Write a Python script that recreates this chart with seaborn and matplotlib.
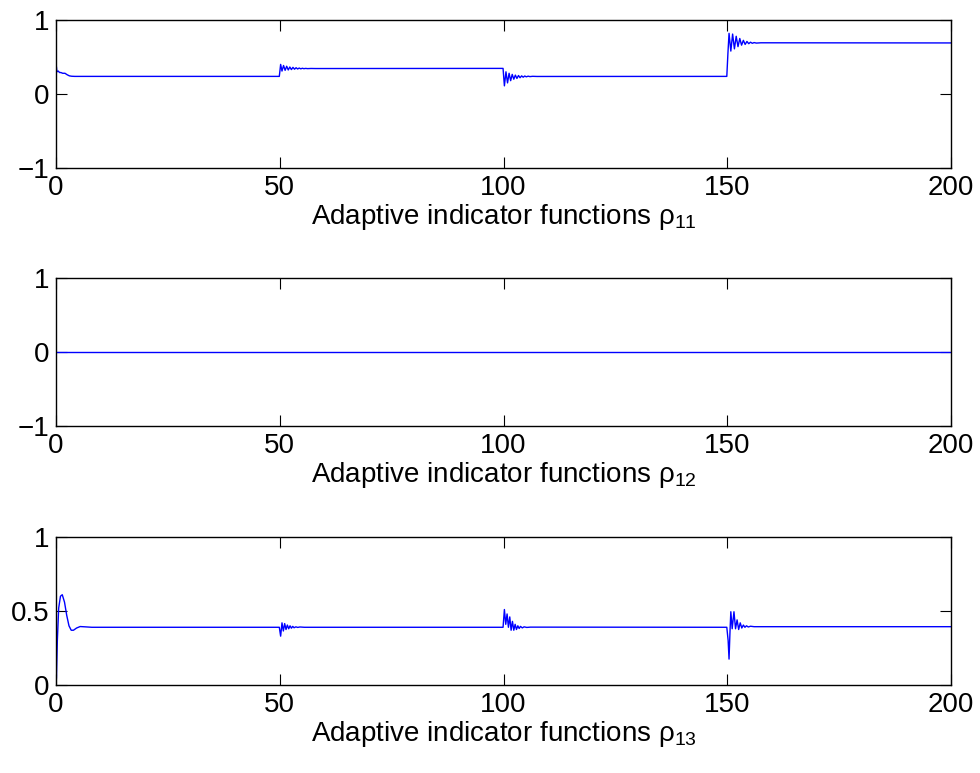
import matplotlib
matplotlib.use("Agg")
import matplotlib.pyplot as plt
import seaborn as sns
import pandas as pd

# ---------------- data ----------------
rho11_t = [0.0, 0.08, 0.2, 0.5, 0.8, 1.1, 1.5, 2.0, 2.5, 3.0, 3.5, 4.2, 5.0, 6.0,
           49.9, 50.2, 50.5, 50.85, 51.2, 51.55, 51.9, 52.25, 52.6, 52.95, 53.3,
           53.65, 54.0, 54.35, 54.7, 55.05, 55.4, 55.8, 56.2, 57.0, 58.0,
           99.9, 100.2, 100.55, 100.9, 101.25, 101.6, 101.95, 102.3, 102.65, 103.0,
           103.35, 103.7, 104.05, 104.4, 104.75, 105.1, 105.5, 105.9, 106.5, 107.5,
           149.9, 150.15, 150.4, 150.8, 151.2, 151.6, 152.0, 152.4, 152.8, 153.2,
           153.6, 154.0, 154.4, 154.8, 155.2, 155.6, 156.0, 156.5, 157.5, 200.0]
rho11_v = [-0.08, 0.37, 0.30, 0.31, 0.29, 0.29, 0.28, 0.28, 0.26, 0.245, 0.24, 0.238, 0.238, 0.238,
           0.238, 0.40, 0.31, 0.385, 0.32, 0.375, 0.325, 0.365, 0.33, 0.36, 0.335,
           0.355, 0.338, 0.351, 0.34, 0.348, 0.342, 0.346, 0.343, 0.345, 0.344,
           0.346, 0.11, 0.30, 0.15, 0.28, 0.18, 0.265, 0.20, 0.255, 0.21,
           0.25, 0.22, 0.245, 0.227, 0.243, 0.232, 0.241, 0.235, 0.239, 0.237,
           0.238, 0.55, 0.82, 0.58, 0.81, 0.61, 0.78, 0.64, 0.75, 0.66,
           0.725, 0.67, 0.71, 0.68, 0.70, 0.685, 0.695, 0.688, 0.692, 0.69]

rho12_t = [0.0, 200.0]
rho12_v = [0.0, 0.0]

rho13_t = [0.0, 0.1, 0.3, 0.6, 1.0, 1.4, 1.9, 2.4, 2.9, 3.4, 3.9, 4.6, 5.4, 6.5, 8.0,
           49.9, 50.2, 50.5, 50.8, 51.1, 51.4, 51.7, 52.0, 52.3, 52.6, 52.9, 53.2,
           53.6, 54.0, 54.5, 55.5,
           99.9, 100.2, 100.5, 100.8, 101.1, 101.4, 101.7, 102.0, 102.3, 102.6,
           102.9, 103.2, 103.5, 103.8, 104.2, 104.6, 105.2, 106.0,
           149.9, 150.2, 150.4, 150.6, 150.8, 151.1, 151.5, 151.85, 152.2, 152.55,
           152.9, 153.25, 153.6, 153.95, 154.3, 154.7, 155.2, 156.0, 200.0]
rho13_v = [0.0, 0.05, 0.30, 0.52, 0.60, 0.61, 0.56, 0.47, 0.40, 0.37, 0.37, 0.385, 0.395, 0.393, 0.39,
           0.39, 0.33, 0.42, 0.365, 0.415, 0.375, 0.405, 0.38, 0.40, 0.384, 0.396, 0.387,
           0.393, 0.389, 0.392, 0.39,
           0.39, 0.51, 0.41, 0.48, 0.39, 0.46, 0.37, 0.43, 0.37, 0.41,
           0.375, 0.40, 0.382, 0.396, 0.386, 0.393, 0.389, 0.391,
           0.39, 0.30, 0.175, 0.35, 0.495, 0.38, 0.495, 0.38, 0.44, 0.375,
           0.42, 0.385, 0.405, 0.39, 0.40, 0.392, 0.397, 0.394, 0.394]

x_ticks = [0, 50, 100, 150, 200]
y_ticks = [[-1, 0, 1], [-1, 0, 1], [0, 0.5, 1]]
y_tick_labels = [["\u22121", "0", "1"], ["\u22121", "0", "1"], ["0", "0.5", "1"]]
y_limits = [(-1, 1), (-1, 1), (0, 1)]
x_labels = ["Adaptive indicator functions \u03c1$_{11}$",
            "Adaptive indicator functions \u03c1$_{12}$",
            "Adaptive indicator functions \u03c1$_{13}$"]

# ---------------- style ----------------
sns.set_style("white")
plt.rcParams['font.family'] = ['Liberation Sans', 'DejaVu Sans']
plt.rcParams['mathtext.fontset'] = 'custom'
plt.rcParams['mathtext.rm'] = 'Liberation Sans'
plt.rcParams['mathtext.it'] = 'Liberation Sans:italic'
plt.rcParams['mathtext.bf'] = 'Liberation Sans:bold'

fig = plt.figure(figsize=(9.8, 7.73), dpi=100)
W, H = 980.0, 773.0
left, right = 56 / W, 951 / W
tops = [20, 278, 537]
height_px = 148

series = [(rho11_t, rho11_v), (rho12_t, rho12_v), (rho13_t, rho13_v)]

for i, (tt, vv) in enumerate(series):
    top = tops[i]
    ax = fig.add_axes([left, 1 - (top + height_px) / H, right - left, height_px / H])
    df = pd.DataFrame({"t": tt, "v": vv})
    sns.lineplot(data=df, x="t", y="v", ax=ax, color="#0000ff", linewidth=1.0,
                 estimator=None, sort=False)
    ax.set_xlim(0, 200)
    ax.set_ylim(*y_limits[i])
    ax.set_xticks(x_ticks)
    ax.set_xticklabels([str(x) for x in x_ticks])
    ax.set_yticks(y_ticks[i])
    ax.set_yticklabels(y_tick_labels[i])
    ax.set_ylabel("")
    ax.set_xlabel(x_labels[i], fontsize=20, labelpad=1, color="black")
    for s in ax.spines.values():
        s.set_color("black")
        s.set_linewidth(1.0)
        s.set_visible(True)
    ax.tick_params(axis="both", direction="in", length=8, width=0.8, colors="black",
                   labelsize=20, top=True, right=True, bottom=True, left=True,
                   pad=5)
    ax.grid(False)

fig.savefig("out.png", dpi=100, facecolor="white")
